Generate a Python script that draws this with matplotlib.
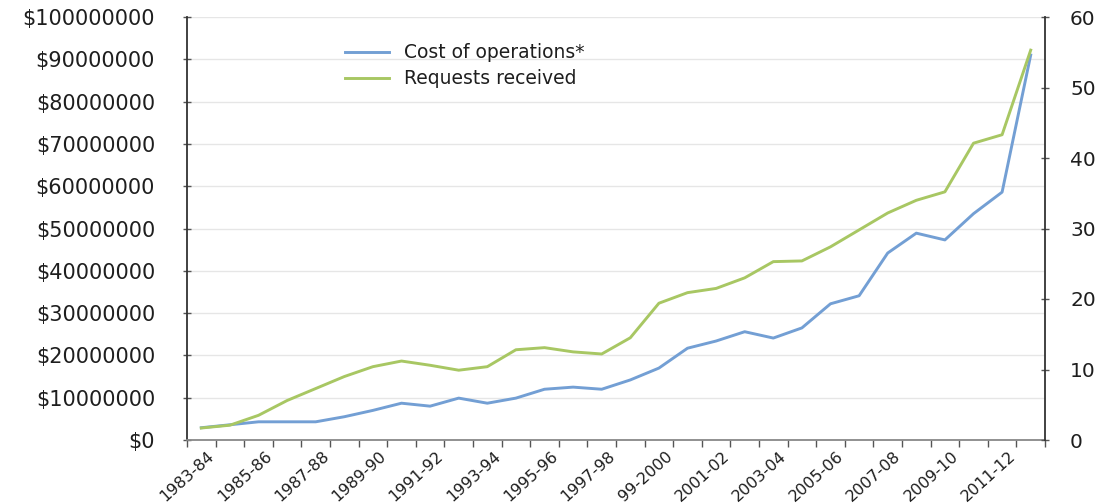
import matplotlib
matplotlib.use("Agg")
import matplotlib.pyplot as plt
import matplotlib.transforms as mtransforms
from matplotlib.ticker import FuncFormatter, MultipleLocator, FixedLocator

# ---- data ----
categories = ['1983-84', '1984-85', '1985-86', '1986-87', '1987-88', '1988-89',
              '1989-90', '1990-91', '1991-92', '1992-93', '1993-94', '1994-95',
              '1995-96', '1996-97', '1997-98', '1998-99', '99-2000', '2000-01',
              '2001-02', '2002-03', '2003-04', '2004-05', '2005-06', '2006-07',
              '2007-08', '2008-09', '2009-10', '2010-11', '2011-12', '2012-13']
cost_millions = [2.9, 3.6, 4.3, 4.3, 4.3, 5.5, 7.0, 8.7, 8.0, 9.9,
                 8.7, 9.9, 12.0, 12.5, 12.0, 14.2, 17.0, 21.7, 23.4, 25.6,
                 24.1, 26.5, 32.2, 34.1, 44.2, 48.9, 47.3, 53.5, 58.6, 91.0]
requests = [1.7, 2.1, 3.5, 5.6, 7.3, 9.0, 10.4, 11.2, 10.6, 9.9,
            10.4, 12.8, 13.1, 12.5, 12.2, 14.5, 19.4, 20.9, 21.5, 23.0,
            25.3, 25.4, 27.4, 29.8, 32.2, 34.0, 35.2, 42.1, 43.3, 55.3]
series_names = ['Cost of operations*', 'Requests received']
labeled_categories = categories[::2]

W, H = 1101, 504
fig = plt.figure(figsize=(W / 100, H / 100), dpi=100)
ax = fig.add_axes([187 / W, 1 - 440 / H, (1045 - 187) / W, (440 - 17) / H])
ax2 = ax.twinx()

x = list(range(len(categories)))
cost = [v * 1e6 for v in cost_millions]

blue = '#739fd4'
green = '#a8c763'
txt = '#1e1e1e'

l1, = ax.plot(x, cost, color=blue, lw=2.1, solid_joinstyle='round')
l2, = ax2.plot(x, requests, color=green, lw=2.1, solid_joinstyle='round')

ax.set_xlim(-0.5, len(categories) - 0.5)
ax.set_ylim(0, 1e8)
ax2.set_ylim(0, 60)

ax.yaxis.set_major_locator(MultipleLocator(1e7))
ax.yaxis.set_major_formatter(FuncFormatter(lambda v, p: '$%d' % int(round(v))))
ax2.yaxis.set_major_locator(MultipleLocator(10))

ax.grid(axis='y', color='#e6e6e6', lw=1.0)
ax.set_axisbelow(True)

for s in ['top', 'right']:
    ax.spines[s].set_visible(False)
for s in ['top', 'left', 'bottom']:
    ax2.spines[s].set_visible(False)
ax.spines['left'].set_color('#333333')
ax.spines['left'].set_linewidth(1.3)
ax2.spines['right'].set_color('#333333')
ax2.spines['right'].set_linewidth(1.3)
ax.spines['bottom'].set_color('#888888')
ax.spines['bottom'].set_linewidth(1.3)

ax.tick_params(axis='y', direction='inout', length=6, width=1, color='#555555',
               labelsize=15, labelcolor=txt, pad=20)
ax2.tick_params(axis='y', direction='inout', length=6, width=1, color='#555555',
                labelsize=14.5, labelcolor=txt, pad=15)

# x ticks: boundaries as ticks, labels at category centres
ax.xaxis.set_major_locator(FixedLocator(x[::2]))
ax.set_xticklabels(labeled_categories)
ax.xaxis.set_minor_locator(FixedLocator([i - 0.5 for i in range(len(categories) + 1)]))
ax.tick_params(axis='x', which='major', length=0, labelsize=11.5, labelcolor=txt, pad=6)
ax.tick_params(axis='x', which='minor', direction='out', length=5, width=1, color='#555555')
offset = mtransforms.ScaledTranslation(6 / 100, 0, fig.dpi_scale_trans)
for lab in ax.get_xticklabels():
    lab.set_rotation(42)
    lab.set_ha('right')
    lab.set_va('top')
    lab.set_rotation_mode('anchor')
    lab.set_transform(lab.get_transform() + offset)

leg = fig.legend([l1, l2], series_names, loc='upper left',
                 bbox_to_anchor=(337 / W, 1 - 36 / H), frameon=False,
                 fontsize=13.5, handlelength=2.35, handletextpad=0.85,
                 labelspacing=0.37, borderaxespad=0)
for t in leg.get_texts():
    t.set_color(txt)

fig.savefig('out.png', dpi=100)
